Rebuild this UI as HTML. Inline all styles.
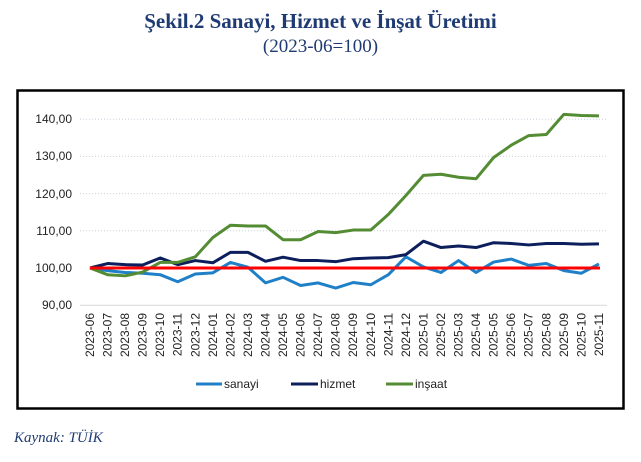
<!DOCTYPE html>
<html><head><meta charset="utf-8"><style>
body{margin:0;background:#fff;width:641px;height:462px;overflow:hidden;position:relative;font-family:"Liberation Sans",sans-serif}
.t1{position:absolute;top:9px;left:0;width:641px;text-align:center;font:bold 21px "Liberation Serif",serif;color:#1f3b73}
.t2{position:absolute;top:36px;left:0;width:641px;text-align:center;font:19px "Liberation Serif",serif;color:#1f3b73}
.src{position:absolute;left:14px;top:430px;font:italic 15px "Liberation Serif",serif;color:#1f3b73}
</style></head><body>
<div class="t1">Şekil.2 Sanayi, Hizmet ve İnşat Üretimi</div>
<div class="t2">(2023-06=100)</div>
<svg width="641" height="462" style="position:absolute;left:0;top:0">
<rect x="17.5" y="90.5" width="606" height="318" fill="none" stroke="#000" stroke-width="2.5"/>
<g stroke="#c8d0dc" stroke-dasharray="1,2" stroke-width="1">
<line x1="80" x2="607" y1="119.2" y2="119.2"/><line x1="80" x2="607" y1="156.4" y2="156.4"/>
<line x1="80" x2="607" y1="193.6" y2="193.6"/><line x1="80" x2="607" y1="230.8" y2="230.8"/>
</g>
<line x1="80" x2="607" y1="305.2" y2="305.2" stroke="#d9d9d9" stroke-width="1"/>
<g font-size="12" fill="#222" text-anchor="end">
<text x="72" y="123">140,00</text><text x="72" y="160">130,00</text><text x="72" y="198">120,00</text>
<text x="72" y="235">110,00</text><text x="72" y="272">100,00</text><text x="72" y="309">90,00</text>
</g>
<g font-size="12" fill="#222" text-anchor="end">
<text transform="translate(94,313) rotate(-90)">2023-06</text>
<text transform="translate(111.5,313) rotate(-90)">2023-07</text>
<text transform="translate(129.1,313) rotate(-90)">2023-08</text>
<text transform="translate(146.6,313) rotate(-90)">2023-09</text>
<text transform="translate(164.2,313) rotate(-90)">2023-10</text>
<text transform="translate(181.7,313) rotate(-90)">2023-11</text>
<text transform="translate(199.3,313) rotate(-90)">2023-12</text>
<text transform="translate(216.8,313) rotate(-90)">2024-01</text>
<text transform="translate(234.4,313) rotate(-90)">2024-02</text>
<text transform="translate(252,313) rotate(-90)">2024-03</text>
<text transform="translate(269.5,313) rotate(-90)">2024-04</text>
<text transform="translate(287,313) rotate(-90)">2024-05</text>
<text transform="translate(304.6,313) rotate(-90)">2024-06</text>
<text transform="translate(322.1,313) rotate(-90)">2024-07</text>
<text transform="translate(339.7,313) rotate(-90)">2024-08</text>
<text transform="translate(357.2,313) rotate(-90)">2024-09</text>
<text transform="translate(374.8,313) rotate(-90)">2024-10</text>
<text transform="translate(392.3,313) rotate(-90)">2024-11</text>
<text transform="translate(409.9,313) rotate(-90)">2024-12</text>
<text transform="translate(427.4,313) rotate(-90)">2025-01</text>
<text transform="translate(445,313) rotate(-90)">2025-02</text>
<text transform="translate(462.5,313) rotate(-90)">2025-03</text>
<text transform="translate(480.1,313) rotate(-90)">2025-04</text>
<text transform="translate(497.6,313) rotate(-90)">2025-05</text>
<text transform="translate(515.2,313) rotate(-90)">2025-06</text>
<text transform="translate(532.7,313) rotate(-90)">2025-07</text>
<text transform="translate(550.3,313) rotate(-90)">2025-08</text>
<text transform="translate(567.8,313) rotate(-90)">2025-09</text>
<text transform="translate(585.4,313) rotate(-90)">2025-10</text>
<text transform="translate(603,313) rotate(-90)">2025-11</text>
</g>
<g transform="translate(90,640) scale(17.55,-3.72)" fill="none" stroke-linejoin="round">
<polyline vector-effect="non-scaling-stroke" stroke="#1f80c8" stroke-width="3" points="0,100 1,99.3 2,98.8 3,98.6 4,98.2 5,96.3 6,98.4 7,98.7 8,101.5 9,100.2 10,96 11,97.5 12,95.3 13,96 14,94.6 15,96.1 16,95.5 17,98.2 18,103 19,100.3 20,98.8 21,102 22,98.8 23,101.6 24,102.4 25,100.7 26,101.2 27,99.3 28,98.6 29,101.1"/>
<polyline vector-effect="non-scaling-stroke" stroke="#0c1f5c" stroke-width="3" points="0,100 1,101.2 2,100.9 3,100.8 4,102.7 5,100.9 6,102 7,101.4 8,104.2 9,104.2 10,101.8 11,102.9 12,102 13,102 14,101.7 15,102.5 16,102.7 17,102.8 18,103.6 19,107.2 20,105.5 21,105.9 22,105.5 23,106.8 24,106.6 25,106.2 26,106.6 27,106.6 28,106.4 29,106.5"/>
<polyline vector-effect="non-scaling-stroke" stroke="#548c34" stroke-width="3" points="0,100 1,98.2 2,97.9 3,98.9 4,101.5 5,101.5 6,103 7,108.2 8,111.5 9,111.3 10,111.3 11,107.6 12,107.6 13,109.8 14,109.5 15,110.2 16,110.2 17,114.4 18,119.5 19,124.9 20,125.2 21,124.4 22,124 23,129.7 24,133 25,135.6 26,135.9 27,141.3 28,141 29,140.9"/>
</g>
<line x1="90" x2="600" y1="268" y2="268" stroke="#ff0000" stroke-width="3"/>
<g stroke-width="3">
<line x1="196" x2="222" y1="384" y2="384" stroke="#1f80c8"/>
<line x1="291" x2="318" y1="384" y2="384" stroke="#0c1f5c"/>
<line x1="386" x2="413" y1="384" y2="384" stroke="#548c34"/>
</g>
<g font-size="12" fill="#222">
<text x="224" y="388">sanayi</text><text x="320" y="388">hizmet</text><text x="415" y="388">inşaat</text>
</g>
</svg>
<div class="src">Kaynak: TÜİK</div>
</body></html>
